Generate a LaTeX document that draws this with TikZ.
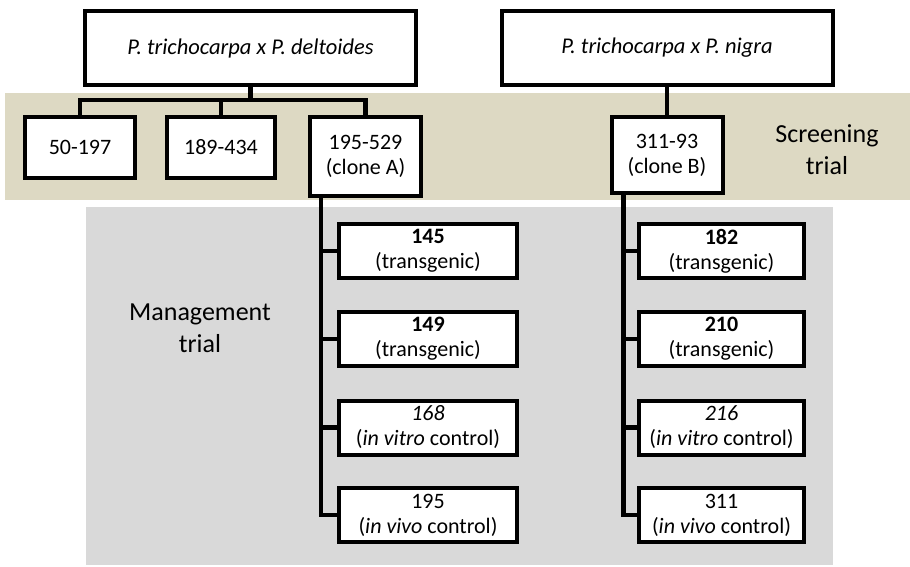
\documentclass[tikz,border=0pt]{standalone}
\usepackage{fontspec}
\setmainfont{Carlito}
\usepackage{tikz}
\usetikzlibrary{calc}
\definecolor{screentan}{RGB}{221,217,195}
\definecolor{mgmtgray}{RGB}{217,217,217}
\def\screenband{(5,93) rectangle (910,200)}
\def\mgmtband{(86,207) rectangle (833,565)}
\tikzset{
    cross/.style={draw,fill=white,line width=4pt,minimum width=331pt,minimum height=74pt,inner sep=0pt,font=\fontsize{22.5}{26}\selectfont\itshape},
    clone/.style={draw,fill=white,line width=4pt,minimum height=61pt,inner sep=0pt,align=center,font=\fontsize{22}{25}\selectfont},
    line/.style={line width=4.5pt},
    trial/.style={align=center,font=\fontsize{26}{32}\selectfont}
}

\begin{document}
\begin{tikzpicture}[x=1pt,y=-1pt]
    \useasboundingbox (0,0) rectangle (910,566);
    \fill[screentan] \screenband;
    \fill[mgmtgray] \mgmtband;
    \node[trial] (screen) at (827,150) {Screening\\trial};
    \node[trial] (manage) at (200,328) {Management\\trial};
    % crosses
    \node[cross] (tcd) at (250.5,48) {P. trichocarpa x P. deltoides};
    \node[cross] (tcn) at (667,48) {P. trichocarpa x P. nigra};
    % screening clones
    \node[clone,minimum width=110pt] (s1) at (80,147.5) {50-197};
    \node[clone,minimum width=108pt] (s2) at (221,147.5) {189-434};
    \node[clone,minimum width=111pt,minimum height=78.5pt] (s3) at (365.5,156.5) {195-529\\(clone A)};
    \node[clone,minimum width=111pt,minimum height=76.5pt] (s4) at (667,155) {311-93\\(clone B)};
    \foreach \c in {s1,s2,s3}
        \draw[line] (tcd.south) -- ++(0,13) -| (\c.north);
    \draw[line] (tcn.south) -- (s4.north);
    % management lines
    \node[clone,minimum width=178pt,minimum height=54pt] (a1) at (428,251) {\textbf{145}\\(transgenic)};
    \node[clone,minimum width=178pt,minimum height=54pt] (a2) at (428,339) {\textbf{149}\\(transgenic)};
    \node[clone,minimum width=178pt,minimum height=54pt] (a3) at (428,427.5) {\textit{168}\\(\textit{in vitro} control)};
    \node[clone,minimum width=178pt,minimum height=54pt] (a4) at (428,515) {195\\(\textit{in vivo} control)};
    \node[clone,minimum width=165pt,minimum height=54pt] (b1) at (721.5,251) {\textbf{182}\\(transgenic)};
    \node[clone,minimum width=165pt,minimum height=54pt] (b2) at (721.5,339) {\textbf{210}\\(transgenic)};
    \node[clone,minimum width=165pt,minimum height=54pt] (b3) at (721.5,427.5) {\textit{216}\\(\textit{in vitro} control)};
    \node[clone,minimum width=165pt,minimum height=54pt] (b4) at (721.5,515) {311\\(\textit{in vivo} control)};
    \coordinate (trunkA) at ($(s3.south west)+(13,0)$);
    \coordinate (trunkB) at ($(s4.south west)+(14,0)$);
    \foreach \m in {a1,a2,a3,a4}
        \draw[line] (trunkA) |- (\m.west);
    \foreach \m in {b1,b2,b3,b4}
        \draw[line] (trunkB) |- (\m.west);
\end{tikzpicture}
\end{document}
